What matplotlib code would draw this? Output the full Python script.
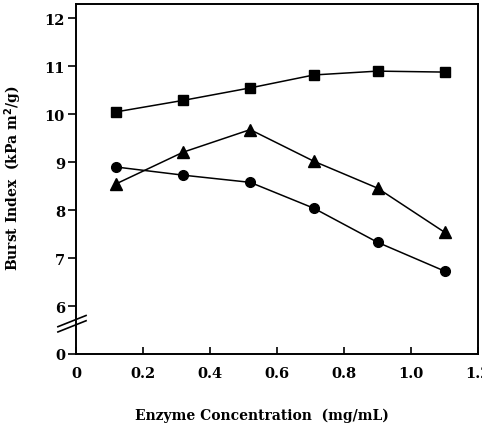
import numpy as np
import matplotlib
matplotlib.use("Agg")
import matplotlib.pyplot as plt

# enzyme concentration (mg/mL)
conc = [0.12, 0.32, 0.52, 0.71, 0.90, 1.10]

# burst index (kPa m^2/g)
squares = [10.05, 10.29, 10.55, 10.82, 10.90, 10.88]
triangles = [8.55, 9.21, 9.68, 9.02, 8.46, 7.54]
circles = [8.90, 8.73, 8.58, 8.04, 7.33, 6.73]

xticks = [0, 0.2, 0.4, 0.6, 0.8, 1.0, 1.2]
xticklabels = ["0", "0.2", "0.4", "0.6", "0.8", "1.0", "1.2"]
yticks = [0, 6, 7, 8, 9, 10, 11, 12]


def forward(y):
    y = np.asarray(y, dtype=float)
    return np.where(y >= 6, y - 5, y / 6.0)


def inverse(y):
    y = np.asarray(y, dtype=float)
    return np.where(y >= 1, y + 5, y * 6.0)


font = {"family": "DejaVu Serif", "weight": "bold"}

fig = plt.figure(figsize=(4.82, 4.27), dpi=100)
ax = fig.add_axes([76 / 482, 1 - 355 / 427, (478 - 76) / 482, (355 - 5) / 427])
ax.set_yscale("function", functions=(forward, inverse))

kw = dict(color="black", linewidth=1.1, markersize=7)
ax.plot(conc, squares, marker="s", **kw)
ax.plot(conc, triangles, marker="^", markersize=8, color="black", linewidth=1.1)
ax.plot(conc, circles, marker="o", **kw)

ax.set_xlim(0, 1.2)
ax.set_ylim(0, 12.3)
ax.set_xticks(xticks)
ax.set_xticklabels(xticklabels, fontdict=font, fontsize=10.5)
ax.set_yticks(yticks)
ax.set_yticklabels([str(t) for t in yticks], fontdict=font, fontsize=10.5)
ax.yaxis.set_minor_locator(matplotlib.ticker.NullLocator())
ax.xaxis.set_minor_locator(matplotlib.ticker.NullLocator())
ax.tick_params(axis="x", direction="in", length=5, width=1.2, pad=9)
ax.tick_params(axis="y", direction="out", length=6, width=1.2, pad=2)
for s in ax.spines.values():
    s.set_linewidth(1.4)

# axis break marks on the left spine
for dy in (0, 0.015):
    ax.plot([-0.045, 0.025], [0.063 + dy, 0.095 + dy], color="black", lw=1.2,
            transform=ax.transAxes, clip_on=False)

fig.text(262 / 482, 1 - 416 / 427, "Enzyme Concentration  (mg/mL)",
         ha="center", va="center", fontsize=10, **font)
fig.text(13 / 482, 1 - 178 / 427, "Burst Index  (kPa m$^\\mathbf{2}$/g)",
         ha="center", va="center", rotation=90, fontsize=10, **font)

fig.savefig("out.png", dpi=100)
